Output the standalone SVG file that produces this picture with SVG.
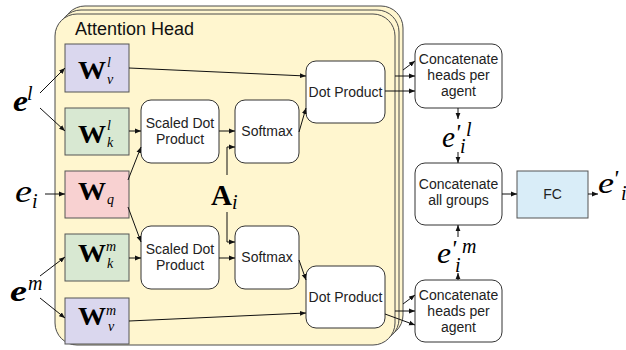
<svg xmlns="http://www.w3.org/2000/svg" width="626" height="350" viewBox="0 0 626 350">
  <style>
    .panel { fill: #fff6cf; stroke: #4a4a4a; stroke-width: 1; }
    .box { fill: #ffffff; stroke: #333333; stroke-width: 1; }
    .wv { fill: #dad7ee; stroke: #555555; stroke-width: 1; }
    .wk { fill: #d8e8d2; stroke: #555555; stroke-width: 1; }
    .wq { fill: #f8d1d1; stroke: #555555; stroke-width: 1; }
    .fc { fill: #d9edf8; stroke: #555555; stroke-width: 1; }
    .lbl { font-family: "Liberation Sans", Arial, sans-serif; font-size: 14px; fill: #222222; text-anchor: middle; }
    .title { font-family: "Liberation Sans", Arial, sans-serif; font-size: 18px; fill: #111111; }
    .mbold { font-family: "Liberation Serif", "Times New Roman", serif; font-weight: bold; fill: #000000; }
    .mit { font-family: "Liberation Serif", "Times New Roman", serif; font-style: italic; fill: #000000; }
    .mbi { font-family: "Liberation Serif", "Times New Roman", serif; font-style: italic; font-weight: bold; fill: #000000; }
    .conn { fill: none; stroke: #111111; stroke-width: 1; marker-end: url(#arr); }
  </style>
  <defs>
    <marker id="arr" viewBox="0 0 6 6" refX="6" refY="3" markerWidth="6" markerHeight="6" markerUnits="userSpaceOnUse" orient="auto">
      <path d="M0,0.6 L6,3 L0,5.4 Z" fill="#111111"/>
    </marker>
  </defs>

  <!-- stacked attention heads -->
  <g id="heads">
    <rect class="panel" x="63" y="6" width="340" height="331" rx="22"/>
    <rect class="panel" x="59" y="10" width="340" height="331" rx="22"/>
    <rect class="panel" x="55" y="14" width="340" height="331" rx="22"/>
    <text class="title" x="75" y="35">Attention Head</text>
  </g>

  <!-- inputs -->
  <g id="in-el">
    <text class="mbi" x="13" y="111" font-size="30" textLength="15" lengthAdjust="spacingAndGlyphs">e</text>
    <text class="mit" x="27" y="100" font-size="20">l</text>
  </g>
  <g id="in-ei">
    <text class="mit" x="15" y="202" font-size="31" textLength="17" lengthAdjust="spacingAndGlyphs">e</text>
    <text class="mit" x="32" y="208" font-size="20">i</text>
  </g>
  <g id="in-em">
    <text class="mbi" x="10" y="301" font-size="30" textLength="17" lengthAdjust="spacingAndGlyphs">e</text>
    <text class="mit" x="28" y="290" font-size="20">m</text>
  </g>

  <!-- projection matrices -->
  <g id="wvl">
    <rect class="wv" x="65" y="44" width="64" height="48"/>
    <text class="mbold" x="78" y="79" font-size="25" textLength="28" lengthAdjust="spacingAndGlyphs">W</text>
    <text class="mit" x="107" y="67" font-size="14">l</text>
    <text class="mit" x="107" y="84" font-size="14">v</text>
  </g>
  <g id="wkl">
    <rect class="wk" x="65" y="108" width="64" height="47"/>
    <text class="mbold" x="78" y="143" font-size="25" textLength="28" lengthAdjust="spacingAndGlyphs">W</text>
    <text class="mit" x="107" y="130" font-size="14">l</text>
    <text class="mit" x="107" y="147" font-size="14">k</text>
  </g>
  <g id="wq">
    <rect class="wq" x="65" y="171" width="64" height="47"/>
    <text class="mbold" x="78" y="200" font-size="25" textLength="28" lengthAdjust="spacingAndGlyphs">W</text>
    <text class="mit" x="107" y="204" font-size="14">q</text>
  </g>
  <g id="wkm">
    <rect class="wk" x="65" y="234" width="64" height="47"/>
    <text class="mbold" x="78" y="262" font-size="25" textLength="28" lengthAdjust="spacingAndGlyphs">W</text>
    <text class="mit" x="106" y="251" font-size="14">m</text>
    <text class="mit" x="107" y="268" font-size="14">k</text>
  </g>
  <g id="wvm">
    <rect class="wv" x="65" y="298" width="64" height="46"/>
    <text class="mbold" x="78" y="325" font-size="25" textLength="28" lengthAdjust="spacingAndGlyphs">W</text>
    <text class="mit" x="106" y="315" font-size="14">m</text>
    <text class="mit" x="108" y="331" font-size="14">v</text>
  </g>

  <!-- attention blocks -->
  <g id="sdp-l">
    <rect class="box" x="141" y="100" width="78" height="63" rx="10"/>
    <text class="lbl" x="180" y="128">Scaled Dot</text>
    <text class="lbl" x="180" y="144">Product</text>
  </g>
  <g id="sdp-m">
    <rect class="box" x="141" y="226" width="78" height="63" rx="10"/>
    <text class="lbl" x="180" y="254">Scaled Dot</text>
    <text class="lbl" x="180" y="270">Product</text>
  </g>
  <g id="sm-l">
    <rect class="box" x="235" y="100" width="64" height="63" rx="10"/>
    <text class="lbl" x="267" y="136">Softmax</text>
  </g>
  <g id="sm-m">
    <rect class="box" x="235" y="226" width="64" height="63" rx="10"/>
    <text class="lbl" x="267" y="262">Softmax</text>
  </g>
  <g id="dp-l">
    <rect class="box" x="306" y="61" width="79" height="62" rx="10"/>
    <text class="lbl" x="345.5" y="97">Dot Product</text>
  </g>
  <g id="dp-m">
    <rect class="box" x="306" y="266" width="79" height="62" rx="10"/>
    <text class="lbl" x="345.5" y="302">Dot Product</text>
  </g>
  <g id="attn">
    <text class="mbold" x="211" y="205" font-size="29">A</text>
    <text class="mit" x="232" y="209" font-size="20">i</text>
  </g>

  <!-- aggregation -->
  <g id="cat-l">
    <rect class="box" x="415" y="44" width="87" height="64" rx="10"/>
    <text class="lbl" x="458.5" y="64">Concatenate</text>
    <text class="lbl" x="458.5" y="80">heads per</text>
    <text class="lbl" x="458.5" y="96">agent</text>
  </g>
  <g id="cat-all">
    <rect class="box" x="415" y="163" width="87" height="62" rx="10"/>
    <text class="lbl" x="458.5" y="189">Concatenate</text>
    <text class="lbl" x="458.5" y="205">all groups</text>
  </g>
  <g id="cat-m">
    <rect class="box" x="415" y="280" width="87" height="62" rx="10"/>
    <text class="lbl" x="458.5" y="300">Concatenate</text>
    <text class="lbl" x="458.5" y="316">heads per</text>
    <text class="lbl" x="458.5" y="332">agent</text>
  </g>
  <g id="fc">
    <rect class="fc" x="517" y="171" width="71" height="47"/>
    <text class="lbl" x="552.5" y="199">FC</text>
  </g>
  <g id="out-l">
    <text class="mit" x="442" y="147" font-size="30" textLength="13" lengthAdjust="spacingAndGlyphs">e</text>
    <text class="mit" x="455" y="140" font-size="24">'</text>
    <text class="mit" x="466" y="136" font-size="20">l</text>
    <text class="mit" x="460" y="153" font-size="20">i</text>
  </g>
  <g id="out-m">
    <text class="mit" x="437" y="263" font-size="30" textLength="14" lengthAdjust="spacingAndGlyphs">e</text>
    <text class="mit" x="451" y="256" font-size="24">'</text>
    <text class="mit" x="462" y="253" font-size="20">m</text>
    <text class="mit" x="455" y="272" font-size="20">i</text>
  </g>
  <g id="out">
    <text class="mit" x="598" y="193" font-size="30" textLength="16" lengthAdjust="spacingAndGlyphs">e</text>
    <text class="mit" x="613" y="186" font-size="24">'</text>
    <text class="mit" x="621" y="200" font-size="20">i</text>
  </g>

  <!-- connectors -->
  <g id="connectors">
    <path class="conn" d="M40,93 L65,68"/>
    <path class="conn" d="M40,108 L65,131"/>
    <path class="conn" d="M45,194 L65,194"/>
    <path class="conn" d="M40,276 L65,257"/>
    <path class="conn" d="M40,298 L65,318"/>

    <path class="conn" d="M129,131 L141,131"/>
    <path class="conn" d="M128,180 L141,147"/>
    <path class="conn" d="M128,207 L141,242"/>
    <path class="conn" d="M129,258 L141,258"/>

    <path class="conn" d="M219,131 L235,131"/>
    <path class="conn" d="M219,258 L235,258"/>
    <path class="conn" d="M227,175 L227,147 L235,147"/>
    <path class="conn" d="M227,212 L227,242 L235,242"/>

    <path class="conn" d="M129,68 L306,76"/>
    <path class="conn" d="M299,132 L306,108"/>
    <path class="conn" d="M299,260 L306,280"/>
    <path class="conn" d="M129,321 L306,313"/>

    <path class="conn" d="M403,70 L415,61"/>
    <path class="conn" d="M395,76 L415,76"/>
    <path class="conn" d="M385,91 L415,91"/>
    <path class="conn" d="M403,304 L415,295"/>
    <path class="conn" d="M395,311 L415,311"/>
    <path class="conn" d="M385,314 L415,325"/>

    <path class="conn" d="M458,108 L458,119"/>
    <path class="conn" d="M458,152 L458,163"/>
    <path class="conn" d="M458,280 L458,273"/>
    <path class="conn" d="M458,237 L458,225"/>
    <path class="conn" d="M502,194 L517,194"/>
    <path class="conn" d="M588,194 L598,194"/>
  </g>
</svg>
